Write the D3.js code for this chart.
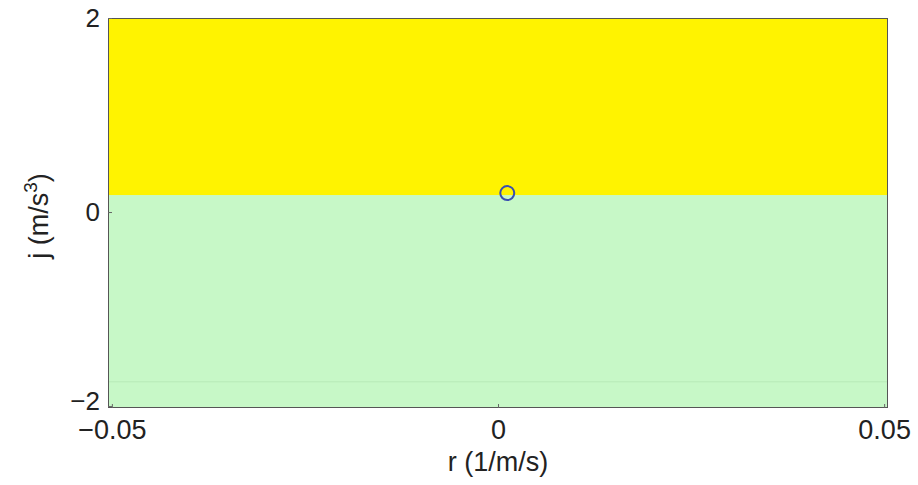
<!DOCTYPE html>
<html><head><meta charset="utf-8">
<script src="https://cdn.jsdelivr.net/npm/d3@7/dist/d3.min.js"></script>
<style>body{margin:0;background:#fff;} text{font-family:"Liberation Sans",Arial,Helvetica,sans-serif;fill:#222;}</style>
</head><body><svg id="c" width="918" height="485"></svg>
<script>
const xDomain = [-0.0505, 0.0505];
const yDomain = [-2.02, 2];
const xTicks = [-0.05, 0, 0.05];
const xTickLabels = ["\u22120.05", "0", "0.05"];
const yTicks = [-2, 0, 2];
const yTickLabels = ["\u22122", "0", "2"];
const regionLow = [-2.02, 0.175];
const regionHigh = [0.175, 2];
const faintLine = [-1.75];
const pointX = [0.0012];
const pointY = [0.195];

const W = 918, H = 485;
const m = {l:108, t:18, r:30, b:77};
const iw = W - m.l - m.r, ih = H - m.t - m.b;
const svg = d3.select("#c");
const x = d3.scaleLinear().domain(xDomain).range([m.l, m.l + iw]);
const y = d3.scaleLinear().domain(yDomain).range([m.t + ih, m.t]);

svg.append("rect").attr("x", x(xDomain[0])).attr("width", x(xDomain[1]) - x(xDomain[0]))
  .attr("y", y(regionLow[1])).attr("height", y(regionLow[0]) - y(regionLow[1])).attr("fill", "#c7f8c7");
svg.append("rect").attr("x", x(xDomain[0])).attr("width", x(xDomain[1]) - x(xDomain[0]))
  .attr("y", y(regionHigh[1])).attr("height", y(regionHigh[0]) - y(regionHigh[1])).attr("fill", "#fff300");
faintLine.forEach(v => svg.append("line").attr("x1", x(xDomain[0])).attr("x2", x(xDomain[1]))
  .attr("y1", y(v)).attr("y2", y(v)).attr("stroke", "#b8eab8").attr("stroke-width", 1));

// point
svg.selectAll("circle.pt").data(pointX.map((d,i)=>[d, pointY[i]])).enter().append("circle")
  .attr("cx", d => x(d[0])).attr("cy", d => y(d[1])).attr("r", 7)
  .attr("fill", "none").attr("stroke", "#3a4fb0").attr("stroke-width", 2);

// frame
svg.append("rect").attr("x", m.l + 0.5).attr("y", m.t + 0.5).attr("width", iw - 1).attr("height", ih - 1)
  .attr("fill", "none").attr("stroke", "#555").attr("stroke-width", 1);

// axes
const xAxis = d3.axisBottom(x).tickValues(xTicks).tickSize(-4).tickPadding(12)
  .tickFormat((d,i) => xTickLabels[i]);
const gx = svg.append("g").attr("transform", `translate(0,${m.t + ih})`).call(xAxis);
gx.select(".domain").remove();
gx.selectAll("line").attr("stroke", "#666");
gx.selectAll("text").attr("font-size", 27).attr("fill", "#222");

const yAxis = d3.axisLeft(y).tickValues(yTicks).tickSize(-4).tickPadding(8)
  .tickFormat((d,i) => yTickLabels[i]);
const gy = svg.append("g").attr("transform", `translate(${m.l},0)`).call(yAxis);
gy.select(".domain").remove();
gy.selectAll("line").attr("stroke", "#666");
gy.selectAll("text").attr("font-size", 26).attr("fill", "#222")
  .attr("dy", d => d === yTicks[0] ? "0.12em" : "0.32em");

// axis titles
svg.append("text").attr("x", x(0)).attr("y", 471).attr("text-anchor", "middle")
  .attr("font-size", 27).text("r (1/m/s)");
const yl = svg.append("text").attr("transform", `translate(48,216) rotate(-90)`)
  .attr("text-anchor", "middle").attr("font-size", 27);
yl.append("tspan").text("j (m/s");
yl.append("tspan").attr("font-size", 19).attr("dy", -11).text("3");
yl.append("tspan").attr("dy", 11).text(")");
</script></body></html>
